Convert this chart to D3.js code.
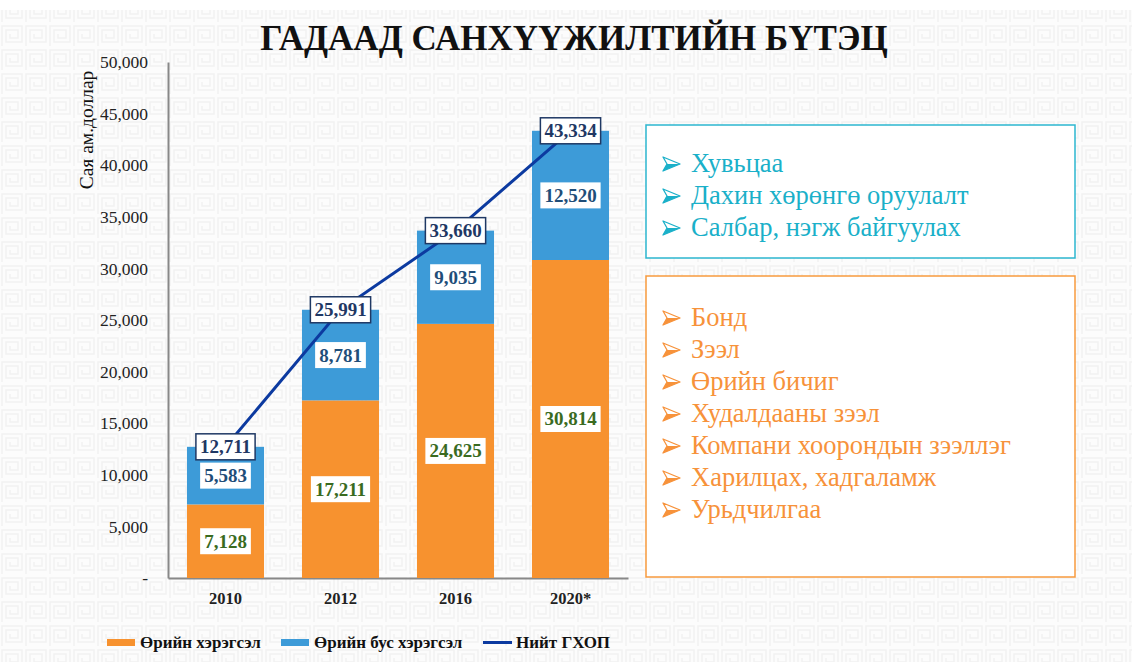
<!DOCTYPE html>
<html>
<head>
<meta charset="utf-8">
<title>Гадаад санхүүжилтийн бүтэц</title>
<script src="https://cdn.jsdelivr.net/npm/d3@7"></script>
<style>
  body { margin: 0; background: #fff; }
  svg text { font-family: "Liberation Serif", "Times New Roman", serif; }
  .axis text { font-size: 17.5px; fill: #222; }
  .axis path, .axis line { stroke: #888; }
</style>
</head>
<body>
<svg id="chart" width="1132" height="662"></svg>
<script>
var years = ["2010", "2012", "2016", "2020*"];
var debtValues = [7128, 17211, 24625, 30814];
var nonDebtValues = [5583, 8781, 9035, 12520];
var totalValues = [12711, 25991, 33660, 43334];
var yTicks = [0, 5000, 10000, 15000, 20000, 25000, 30000, 35000, 40000, 45000, 50000];
var nonDebtItems = ["Хувьцаа", "Дахин хөрөнгө оруулалт", "Салбар, нэгж байгуулах"];
var debtItems = ["Бонд", "Зээл", "Өрийн бичиг", "Худалдааны зээл", "Компани хоорондын зээллэг", "Харилцах, хадгаламж", "Урьдчилгаа"];

var orange = "#f7922f", blue = "#3d9bd8", navy = "#0c3aa0";
var svg = d3.select("#chart");

// faint background pattern
var defs = svg.append("defs");
var pat = defs.append("pattern").attr("id", "bg").attr("width", 24).attr("height", 24)
  .attr("patternUnits", "userSpaceOnUse");
pat.append("rect").attr("width", 24).attr("height", 24).attr("fill", "#fcfcfc");
pat.append("path").attr("d", "M2 22 V2 H22 V18 H6 V6 H18 V14 H10 V10")
  .attr("fill", "none").attr("stroke", "#f2f2f2").attr("stroke-width", 1.5);
svg.append("rect").attr("x", 0).attr("y", 10).attr("width", 1132).attr("height", 652).attr("fill", "url(#bg)");

// title
svg.append("text").attr("x", 574).attr("y", 50).attr("text-anchor", "middle")
  .style("font-size", "35px").style("font-weight", "bold").attr("fill", "#111")
  .text("ГАДААД САНХҮҮЖИЛТИЙН БҮТЭЦ");

var plotL = 168, plotR = 628, plotT = 62, plotB = 578;
var x = d3.scaleBand().domain(years).range([plotL, plotR]).paddingInner(0.33).paddingOuter(0.165);
var y = d3.scaleLinear().domain([0, 50000]).range([plotB, plotT]);

var yAxis = d3.axisLeft(y).tickValues(yTicks).tickSize(0).tickPadding(20)
  .tickFormat(function(d){ return d === 0 ? "-" : d3.format(",")(d); });
var gy = svg.append("g").attr("class", "axis").attr("transform", "translate(" + plotL + ",0)").call(yAxis);
gy.select(".domain").attr("stroke-width", 2);

var xAxis = d3.axisBottom(x).tickSize(0).tickPadding(14);
var gx = svg.append("g").attr("class", "axis").attr("transform", "translate(0," + plotB + ")").call(xAxis);
gx.select(".domain").attr("stroke-width", 2);
gx.selectAll("text").style("font-weight", "bold").style("font-size", "16.5px").attr("fill", "#111");

svg.append("text").attr("transform", "translate(93,130) rotate(-90)").attr("text-anchor", "middle")
  .style("font-size", "19.5px").attr("fill", "#111").text("Сая ам.доллар");

// bars
var bars = svg.append("g");
bars.selectAll(".debt").data(years).enter().append("rect")
  .attr("x", function(d){ return x(d); }).attr("width", x.bandwidth())
  .attr("y", function(d, i){ return y(debtValues[i]); })
  .attr("height", function(d, i){ return y(0) - y(debtValues[i]); })
  .attr("fill", orange);
bars.selectAll(".nondebt").data(years).enter().append("rect")
  .attr("x", function(d){ return x(d); }).attr("width", x.bandwidth())
  .attr("y", function(d, i){ return y(debtValues[i] + nonDebtValues[i]); })
  .attr("height", function(d, i){ return y(debtValues[i]) - y(debtValues[i] + nonDebtValues[i]); })
  .attr("fill", blue);

function label(g, cx, cy, txt, color, border) {
  var t = g.append("text").attr("x", cx).attr("y", cy + 6.5).attr("text-anchor", "middle")
    .style("font-size", "19px").style("font-weight", "bold").attr("fill", color).text(txt);
  var w = t.node().getComputedTextLength() + 8;
  g.insert("rect", function(){ return t.node(); })
    .attr("x", cx - w / 2).attr("y", cy - 13).attr("width", w).attr("height", 26)
    .attr("fill", "#fff").attr("stroke", border || "none").attr("stroke-width", border ? 1.5 : 0);
}
var fmt = d3.format(",");
var lab = svg.append("g");
years.forEach(function(d, i){
  var cx = x(d) + x.bandwidth() / 2;
  label(lab, cx, (y(0) + y(debtValues[i])) / 2, fmt(debtValues[i]), "#3a6b1f");
  label(lab, cx, (y(debtValues[i]) + y(debtValues[i] + nonDebtValues[i])) / 2, fmt(nonDebtValues[i]), "#1f4e79");
});

// total line
var line = d3.line().x(function(d){ return x(d) + x.bandwidth() / 2; })
  .y(function(d, i){ return y(totalValues[i]); });
svg.append("path").datum(years).attr("d", line).attr("fill", "none").attr("stroke", navy).attr("stroke-width", 3);
var tl = svg.append("g");
years.forEach(function(d, i){
  label(tl, x(d) + x.bandwidth() / 2, y(totalValues[i]), fmt(totalValues[i]), "#1f3864", "#1f3864");
});

// legend
var leg = svg.append("g").style("font-size", "17px").style("font-weight", "bold");
leg.append("rect").attr("x", 107).attr("y", 639).attr("width", 28).attr("height", 7).attr("fill", orange);
leg.append("text").attr("x", 140).attr("y", 648).attr("fill", "#111").text("Өрийн хэрэгсэл");
leg.append("rect").attr("x", 281).attr("y", 639).attr("width", 28).attr("height", 7).attr("fill", blue);
leg.append("text").attr("x", 314).attr("y", 648).attr("fill", "#111").text("Өрийн бус хэрэгсэл");
leg.append("line").attr("x1", 483).attr("x2", 512).attr("y1", 642.5).attr("y2", 642.5).attr("stroke", navy).attr("stroke-width", 3);
leg.append("text").attr("x", 516).attr("y", 648).attr("fill", "#111").text("Нийт ГХОП");

// info boxes with arrowhead bullets
function infoBox(bx, by, bw, bh, stroke, color, items, firstY) {
  var g = svg.append("g");
  g.append("rect").attr("x", bx).attr("y", by).attr("width", bw).attr("height", bh)
    .attr("fill", "#fff").attr("stroke", stroke).attr("stroke-width", 1.5);
  items.forEach(function(it, i){
    var yy = firstY + i * 32;
    var b = g.append("g").attr("transform", "translate(663," + (yy - 8) + ")");
    b.append("path").attr("d", "M0,-7 L17,0 L0,7 L4,0 Z").attr("fill", "none")
      .attr("stroke", color).attr("stroke-width", 1.3).attr("stroke-linejoin", "round");
    b.append("path").attr("d", "M4,0 L17,0 L0,7 Z").attr("fill", color);
    g.append("text").attr("x", 691).attr("y", yy).style("font-size", "26.5px").attr("fill", color).text(it);
  });
}
infoBox(646, 125, 429, 133, "#2db6cf", "#1ab0c9", nonDebtItems, 172);
infoBox(646, 276, 429, 301, "#f79a3e", "#f7923a", debtItems, 326);
</script>
</body>
</html>
